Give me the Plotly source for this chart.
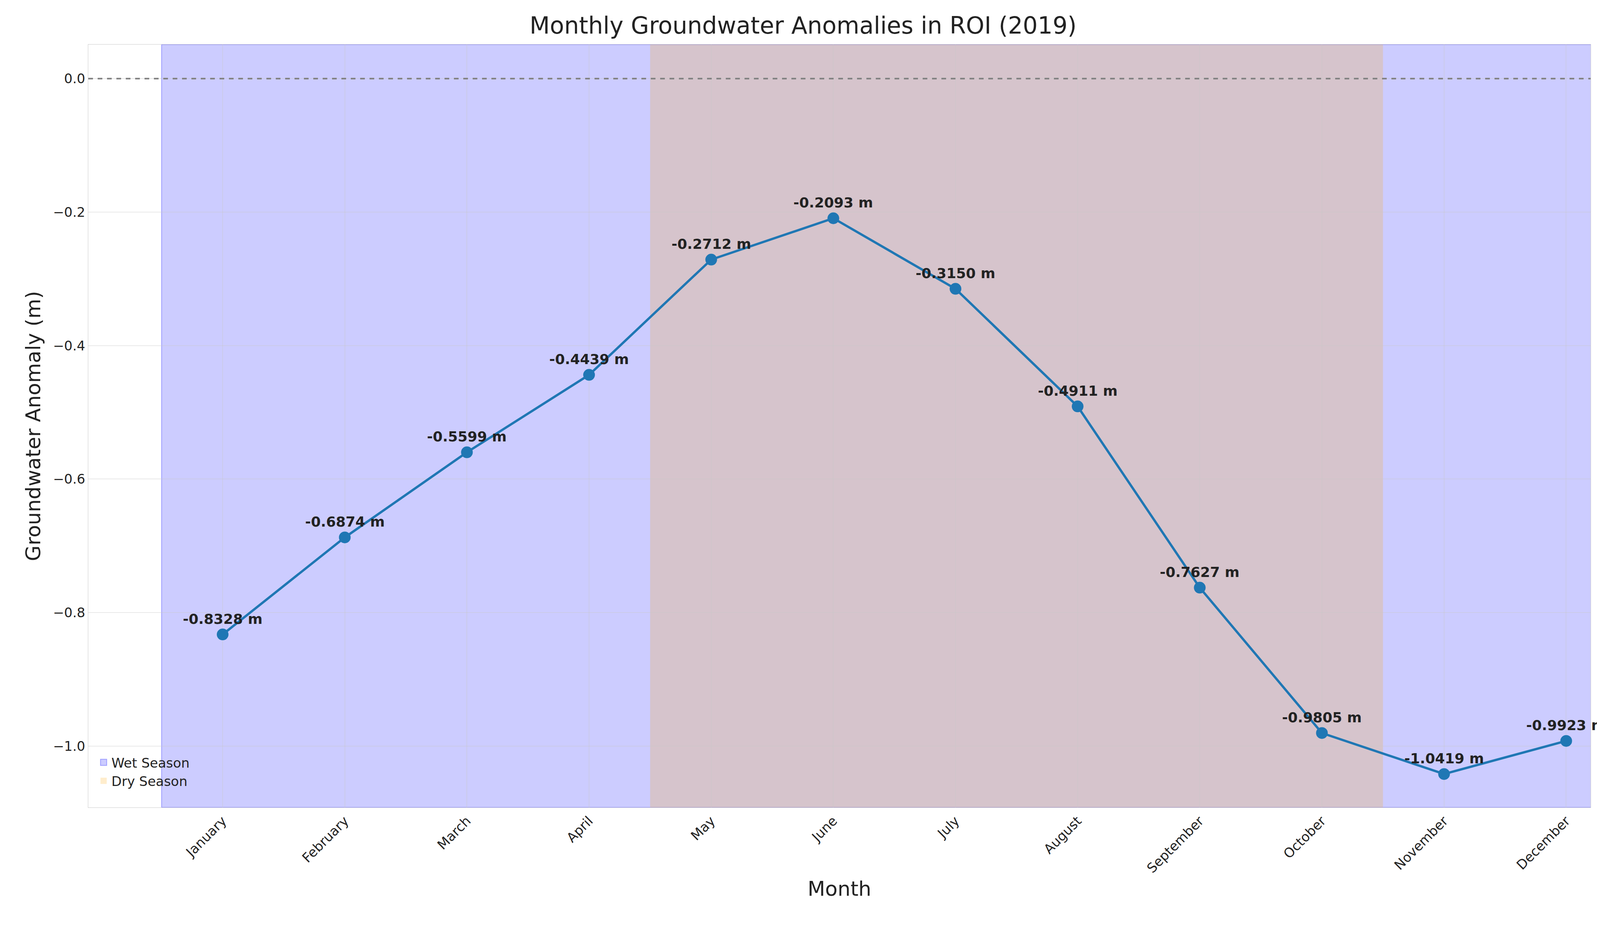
import plotly.graph_objects as go

months = ["January","February","March","April","May","June","July","August","September","October","November","December"]
anom = [-0.8328,-0.6874,-0.5599,-0.4439,-0.2712,-0.2093,-0.3150,-0.4911,-0.7627,-0.9805,-1.0419,-0.9923]
x = list(range(len(months)))

fig = go.Figure()
fig.add_vrect(x0=-0.5, x1=11.5, fillcolor="rgba(0,0,255,0.2)", line=dict(color="rgba(0,0,255,0.3)", width=2), layer="below")
fig.add_vrect(x0=3.5, x1=9.5, fillcolor="rgba(255,165,0,0.2)", line_width=0, layer="below")
fig.add_hline(y=0, line=dict(color="gray", dash="dash", width=4))
fig.add_trace(go.Scatter(x=x, y=anom, mode="lines+markers", line=dict(color="#1f77b4", width=6),
                         marker=dict(size=30, color="#1f77b4"), showlegend=False))
fig.add_trace(go.Scatter(x=[None], y=[None], mode="markers", name="Wet Season",
                         marker=dict(symbol="square", size=36, color="rgba(0,0,255,0.2)", line=dict(color="rgba(0,0,255,0.3)", width=2))))
fig.add_trace(go.Scatter(x=[None], y=[None], mode="markers", name="Dry Season",
                         marker=dict(symbol="square", size=36, color="rgba(255,165,0,0.2)")))
for xi, v in zip(x, anom):
    fig.add_annotation(x=xi, y=v, text=f"<b>{v:.4f} m</b>", showarrow=False, yshift=40,
                       font=dict(size=36, color="#222"))

fig.update_layout(
    autosize=True, paper_bgcolor="white", plot_bgcolor="white",
    margin=dict(l=218, r=32, t=106, b=314),
    title=dict(text="Monthly Groundwater Anomalies in ROI (2019)", x=0.5, xanchor="center", y=0.985, yanchor="top",
               font=dict(family="DejaVu Sans", size=60, color="#222")),
    font=dict(family="DejaVu Sans", size=34, color="#222"),
    legend=dict(x=0.005, y=0.02, xanchor="left", yanchor="bottom", bgcolor="rgba(0,0,0,0)", font=dict(size=34)),
    xaxis=dict(range=[-1.1, 11.2], tickvals=x, ticktext=months, tickangle=-45, showgrid=True,
               gridcolor="rgba(200,200,200,0.4)", gridwidth=2, zeroline=False, showline=True, linecolor="#ccc", mirror=True,
               title=dict(text="Month", font=dict(size=52)), tickfont=dict(size=34)),
    yaxis=dict(range=[-1.092, 0.051], tickvals=[0,-0.2,-0.4,-0.6,-0.8,-1.0],
               ticktext=["0.0","−0.2","−0.4","−0.6","−0.8","−1.0"], showgrid=True,
               gridcolor="rgba(200,200,200,0.4)", gridwidth=2, zeroline=False, showline=True, linecolor="#ccc", mirror=True,
               title=dict(text="Groundwater Anomaly (m)", font=dict(size=52)), tickfont=dict(size=34)),
)
fig.write_html("out.html", default_width="100vw", default_height="100vh",
               config={"responsive": True})
